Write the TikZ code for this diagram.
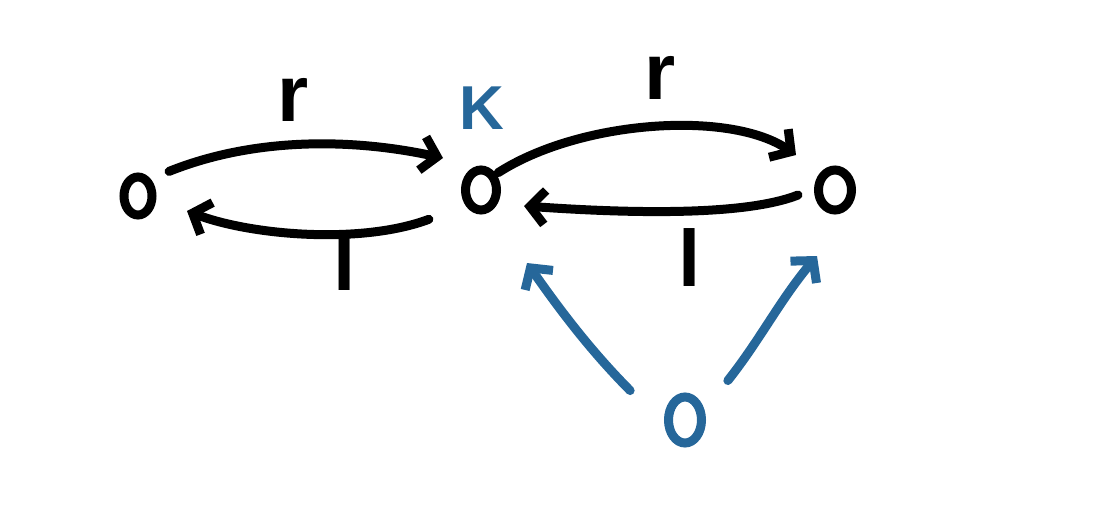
\documentclass[tikz,border=0pt]{standalone}
\usepackage{fontspec}
\setmainfont{Liberation Sans}
\usetikzlibrary{arrows.meta,shapes.geometric}
\definecolor{penblue}{HTML}{26679A}
\tikzset{
  obj/.style={draw, line width=9pt, ellipse, minimum width=#1, inner sep=0pt},
  edge/.style={line width=9pt, line cap=round, line join=round, -{Straight Barb[length=15pt,width=34pt,line width=9pt]}},
  lab/.style={font=\bfseries\fontsize{80}{80}\selectfont, inner sep=0pt},
}
\begin{document}
\begin{tikzpicture}[x=1pt,y=-1pt]
\useasboundingbox (0,0) rectangle (1095,509);
\node[obj=28pt, minimum height=38pt] (a) at (138,196) {};
\node[obj=31pt, minimum height=40pt] (b) at (481,190) {};
\node[obj=33pt, minimum height=40pt] (c) at (835,190) {};
\node[obj=33pt, minimum height=46pt, penblue] (d) at (685,420) {};
\draw[edge] (a.north east) ++(18,-8) coordinate (a1) .. controls (260,135) and (360,140) .. (443,158) coordinate (b1);
\draw[edge] (b.south west) ++(-38,12) coordinate (b2) .. controls (360,245) and (250,235) .. (187,211) coordinate (a2);
\draw[edge] (b.north east) ++(3,0) coordinate (b3) .. controls (580,120) and (730,110) .. (796,155) coordinate (c1);
\draw[edge] (c.west) ++(-16,5) coordinate (c2) .. controls (740,218) and (610,212) .. (524,206) coordinate (b4);
\draw[edge, penblue] (d.north west) ++(-40,-10) coordinate (d1) .. controls (590,350) and (560,310) .. (527,263) coordinate (b5);
\draw[edge, penblue] (d.north east) ++(28,-20) coordinate (d2) .. controls (760,340) and (780,300) .. (817,256) coordinate (c3);
\node[lab] (r1) at (293,100) {r};
\node[lab] (l1) at (345,262) {l};
\node[lab] (r2) at (660,78) {r};
\node[lab] (l2) at (690,258) {l};
\node[lab, penblue, font=\bfseries\fontsize{62}{62}\selectfont] (k) at (482,108) {K};
\end{tikzpicture}
\end{document}
